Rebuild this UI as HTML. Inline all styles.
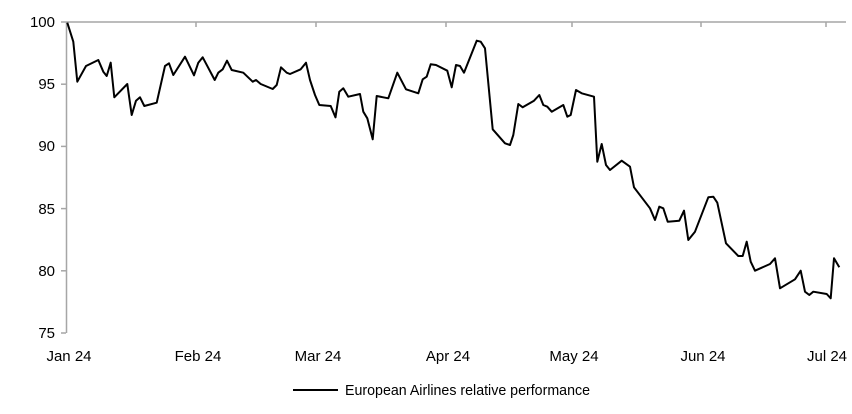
<!DOCTYPE html>
<html><head><meta charset="utf-8"><style>
html,body{margin:0;padding:0;background:#fff;}
svg{display:block;}
text{font-family:"Liberation Sans Narrow","Liberation Sans",sans-serif;font-size:15px;fill:#000;}
</style></head><body>
<svg width="852" height="414" viewBox="0 0 852 414" xmlns="http://www.w3.org/2000/svg">
<g stroke="#a6a6a6" stroke-width="1.5" fill="none">
<line x1="66.5" y1="22" x2="66.5" y2="333"/>
<line x1="66" y1="22" x2="846" y2="22"/>
<line x1="61" y1="22" x2="66" y2="22"/>
<line x1="61" y1="84.2" x2="66" y2="84.2"/>
<line x1="61" y1="146.4" x2="66" y2="146.4"/>
<line x1="61" y1="208.6" x2="66" y2="208.6"/>
<line x1="61" y1="270.8" x2="66" y2="270.8"/>
<line x1="61" y1="333" x2="66" y2="333"/>
<line x1="196" y1="22" x2="196" y2="27"/>
<line x1="316" y1="22" x2="316" y2="27"/>
<line x1="446" y1="22" x2="446" y2="27"/>
<line x1="572" y1="22" x2="572" y2="27"/>
<line x1="701" y1="22" x2="701" y2="27"/>
<line x1="826" y1="22" x2="826" y2="27"/>
</g>
<g text-anchor="end">
<text x="55" y="27">100</text>
<text x="55" y="89">95</text>
<text x="55" y="151">90</text>
<text x="55" y="214">85</text>
<text x="55" y="276">80</text>
<text x="55" y="338">75</text>
</g>
<g text-anchor="middle">
<text x="69" y="361">Jan 24</text>
<text x="198" y="361">Feb 24</text>
<text x="318" y="361">Mar 24</text>
<text x="448" y="361">Apr 24</text>
<text x="574" y="361">May 24</text>
<text x="703" y="361">Jun 24</text>
<text x="827" y="361">Jul 24</text>
</g>
<line x1="293" y1="390" x2="338" y2="390" stroke="#000" stroke-width="2"/>
<text x="345" y="395" textLength="245" lengthAdjust="spacingAndGlyphs">European Airlines relative performance</text>
<polyline fill="none" stroke="#000" stroke-width="2" stroke-linejoin="round" points="
67.3,22.7 73.3,41.7 77.3,81.7 86,66 98.3,60 103.3,71.7 106.7,76 110.7,62.7 114.3,97.3 127.3,84 131.7,115 136,100.7 140,97.3 144.3,106 156.7,102.7 165,66 169,63.3 173.3,75 185,56.7 194,75.3 198.3,62.7 202.7,57.3 214.7,80 218.3,72.7 222.7,69.3 227,60.7 231.7,70 243.3,72.7 252.7,81.7 256,80 260.7,84 272.7,89 276.7,85 281,67.3 286.7,72.7 290,74 300.7,69.3 306,62.7 310,80 315,95 319.3,105 330.7,106 335.5,117.3 339.3,91.7 343.3,88.3 348.3,96.7 360,94 363.3,111.7 367.3,118.3 372.7,139.3 376.7,96 388.3,98.3 397.3,72.7 406,89.3 418.3,93.3 422.7,79.3 426.7,76.7 430.7,64.3 436,65 447.3,70.7 451.7,87.3 456,65 460,66 464,72.7 476.7,40.7 480.7,41.7 485,48.3 492.7,129.3 505,143.3 510,145 513.3,135 518.3,104 522.7,107.3 534,100.7 539.3,95 543.3,105 547.3,106.7 551.7,111.7 563.3,105 567.3,116.7 570.7,115 576,90 581.7,93.3 594,96.7 597.3,161.7 601.7,144 606,165 610,170 621.7,160.7 630,166.7 634,187.3 650,208.3 655,220 659.3,206.7 663.3,208.3 667.7,221.7 679.3,220.7 684,210.7 688.3,240 695,231.7 708.3,197.3 713.3,196.7 717.3,202.7 726,243.3 738.3,256 742.7,256 746.7,241.7 750.7,261.7 755,270.7 770,264 775,258.3 780,288.3 795,279.3 800.7,270.7 805,291.7 809.3,295 813.3,291.7 826.7,294 830.7,298.3 834,258.3 839.3,267.3"/>
</svg>
</body></html>
